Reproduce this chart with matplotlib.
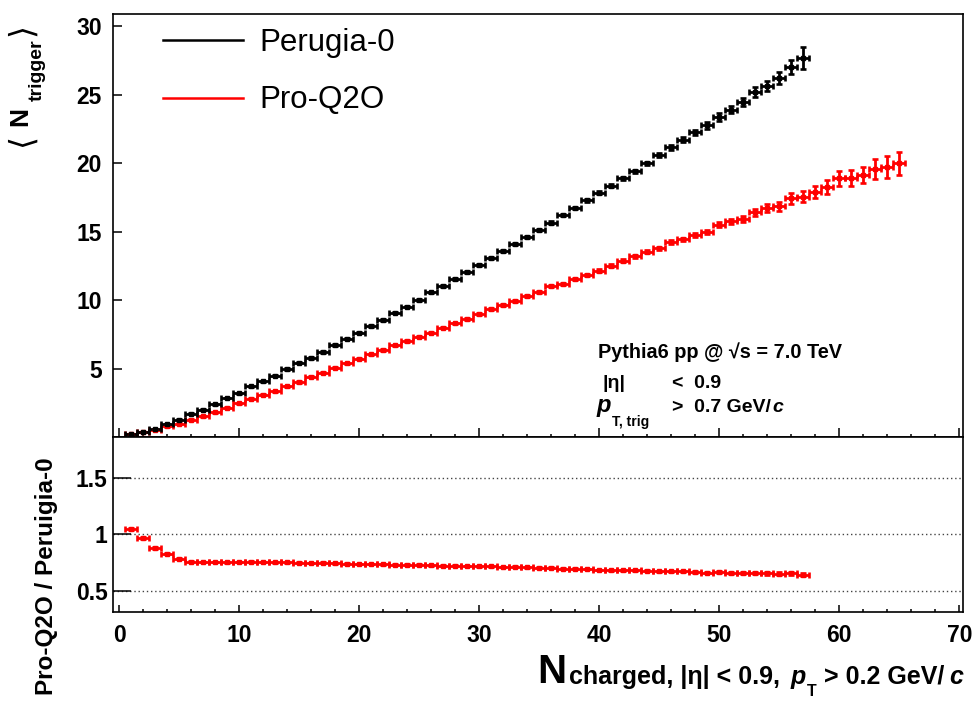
import numpy as np
import matplotlib
matplotlib.use('Agg')
import matplotlib.pyplot as plt
from matplotlib.lines import Line2D
from matplotlib.transforms import IdentityTransform

plt.rcParams['font.family'] = ['Liberation Sans', 'DejaVu Sans']
plt.rcParams['mathtext.fontset'] = 'dejavusans'

# --- data --------------------------------------------------------------
# Perugia-0 : <N_trigger> per N_charged bin (bins 1..57)
nch_p0 = np.arange(1, 58)
ntrig_p0 = [0.20, 0.36, 0.60, 0.95, 1.25, 1.70, 2.00, 2.40, 2.85, 3.20,
            3.70, 4.07, 4.49, 4.97, 5.42, 5.78, 6.20, 6.72, 7.18, 7.62,
            8.11, 8.55, 9.09, 9.53, 10.02, 10.56, 11.05, 11.54, 12.03, 12.57,
            13.09, 13.58, 14.12, 14.61, 15.15, 15.66, 16.20, 16.74, 17.30, 17.84,
            18.36, 18.90, 19.43, 20.00, 20.61, 21.15, 21.72, 22.26, 22.77, 23.38,
            23.92, 24.49, 25.20, 25.64, 26.25, 27.04, 27.67]
err_p0 = [0.02, 0.02, 0.02, 0.03, 0.03, 0.03, 0.03, 0.03, 0.03, 0.04,
          0.04, 0.04, 0.04, 0.04, 0.04, 0.05, 0.05, 0.05, 0.05, 0.05,
          0.05, 0.05, 0.06, 0.06, 0.06, 0.06, 0.06, 0.07, 0.07, 0.07,
          0.07, 0.08, 0.08, 0.08, 0.08, 0.09, 0.09, 0.09, 0.10, 0.10,
          0.10, 0.11, 0.11, 0.12, 0.13, 0.15, 0.18, 0.20, 0.25, 0.28,
          0.27, 0.30, 0.39, 0.39, 0.43, 0.50, 0.80]

# Pro-Q2O (bins 1..65)
nch_q2o = np.arange(1, 66)
ntrig_q2o = [0.21, 0.35, 0.53, 0.78, 0.98, 1.27, 1.50, 1.80, 2.14, 2.45,
             2.80, 3.09, 3.33, 3.70, 4.02, 4.39, 4.68, 5.05, 5.37, 5.71,
             6.03, 6.35, 6.69, 7.01, 7.33, 7.62, 7.99, 8.31, 8.60, 8.97,
             9.34, 9.63, 9.93, 10.32, 10.56, 11.00, 11.18, 11.54, 11.84, 12.16,
             12.52, 12.89, 13.21, 13.55, 13.80, 14.24, 14.44, 14.78, 14.97, 15.51,
             15.76, 15.96, 16.40, 16.74, 16.85, 17.43, 17.55, 17.90, 18.28, 18.90,
             18.94, 19.14, 19.58, 19.75, 20.00]
err_q2o = [0.02, 0.02, 0.02, 0.02, 0.02, 0.03, 0.03, 0.03, 0.03, 0.03,
           0.03, 0.03, 0.03, 0.04, 0.04, 0.04, 0.04, 0.04, 0.04, 0.04,
           0.04, 0.05, 0.05, 0.05, 0.05, 0.05, 0.05, 0.05, 0.06, 0.06,
           0.06, 0.06, 0.06, 0.07, 0.07, 0.07, 0.07, 0.08, 0.08, 0.08,
           0.09, 0.09, 0.10, 0.10, 0.11, 0.12, 0.13, 0.14, 0.16, 0.18,
           0.20, 0.22, 0.25, 0.28, 0.32, 0.38, 0.40, 0.45, 0.50, 0.55,
           0.58, 0.60, 0.70, 0.80, 0.85]

# ratio Pro-Q2O / Perugia-0 (bins 1..57)
nch_ratio = np.arange(1, 58)
ratio = [1.050, 0.971, 0.882, 0.829, 0.785, 0.758, 0.758, 0.758, 0.755, 0.758,
         0.761, 0.758, 0.755, 0.755, 0.752, 0.749, 0.752, 0.746, 0.743, 0.740,
         0.740, 0.737, 0.735, 0.735, 0.735, 0.729, 0.726, 0.726, 0.723, 0.720,
         0.720, 0.714, 0.714, 0.711, 0.708, 0.708, 0.699, 0.699, 0.696, 0.687,
         0.684, 0.684, 0.684, 0.681, 0.676, 0.676, 0.676, 0.667, 0.664, 0.670,
         0.664, 0.661, 0.658, 0.658, 0.655, 0.658, 0.646]
ratio_err = [0.010, 0.008, 0.006, 0.005, 0.004, 0.004, 0.003, 0.003, 0.003, 0.003,
             0.003, 0.003, 0.003, 0.003, 0.003, 0.003, 0.003, 0.003, 0.003, 0.003,
             0.003, 0.003, 0.003, 0.003, 0.003, 0.003, 0.003, 0.003, 0.003, 0.003,
             0.003, 0.003, 0.004, 0.004, 0.004, 0.004, 0.004, 0.004, 0.004, 0.004,
             0.005, 0.005, 0.005, 0.005, 0.006, 0.006, 0.006, 0.007, 0.007, 0.008,
             0.008, 0.009, 0.010, 0.011, 0.012, 0.014, 0.016]

W, H = 976, 707
fig = plt.figure(figsize=(W / 100, H / 100), dpi=100)
ax1 = fig.add_axes([113 / W, (H - 437) / H, 850 / W, 423 / H])
ax2 = fig.add_axes([113 / W, (H - 612) / H, 850 / W, 175 / H])

kw = dict(fmt='s', ms=3.2, xerr=0.5, capsize=2.4, capthick=1.9, elinewidth=2.0)
ax1.errorbar(nch_q2o, ntrig_q2o, yerr=err_q2o, color='red', **kw)
ax1.errorbar(nch_p0, ntrig_p0, yerr=err_p0, color='black', **kw)
ax2.errorbar(nch_ratio, ratio, yerr=ratio_err, color='red', **kw)

for ax in (ax1, ax2):
    ax.set_xlim(-0.5, 70.3)
    ax.set_xticks(np.arange(0, 71, 10))
    ax.set_xticks(np.arange(0, 71, 2), minor=True)
    ax.tick_params(which='both', direction='in', top=False, right=False, width=1.1)
    for sp in ax.spines.values():
        sp.set_linewidth(1.2)

ax1.set_ylim(0, 30.9)
ax1.set_yticks([5, 10, 15, 20, 25, 30])
ax1.tick_params(axis='x', which='major', length=6.5, labelbottom=False)
ax1.tick_params(axis='x', which='minor', length=2.4)
ax1.tick_params(axis='y', which='major', length=6.5, pad=8, labelsize=16.5)
for lab in ax1.get_yticklabels():
    lab.set_fontweight('bold')

ax2.set_ylim(0.317, 1.859)
ax2.set_yticks([0.5, 1, 1.5])
ax2.set_yticklabels(['0.5', '1', '1.5'])
ax2.tick_params(axis='y', which='major', length=13, pad=4, labelsize=16.5)
ax2.tick_params(axis='x', which='major', length=4.8, pad=9, labelsize=16.5)
ax2.tick_params(axis='x', which='minor', length=2.4)
for lab in ax2.get_yticklabels() + ax2.get_xticklabels():
    lab.set_fontweight('bold')
for yv in [0.5, 1, 1.5]:
    ax2.axhline(yv, color='#444444', lw=1, ls=(0, (1, 2)), zorder=0)

handles = [Line2D([], [], color='black', lw=1.8), Line2D([], [], color='red', lw=1.8)]
fig.legend(handles, ['Perugia-0', 'Pro-Q2O'], loc='upper left',
           bbox_to_anchor=(163 / W, (H - 28) / H), frameon=False, fontsize=22.5,
           borderpad=0, borderaxespad=0, handlelength=2.55, handletextpad=0.52,
           labelspacing=0.88)

ident = IdentityTransform()
rend = fig.canvas.get_renderer()


def chain(pieces, x0, y0, rot=False, right=False):
    # pieces: (text, size, weight, style, drop, gap) laid out one after another
    texts = []
    pos = 0.0
    for s, size, weight, style, drop, gap in pieces:
        if rot:
            t = fig.text(x0 + drop, y0 + pos, s, transform=ident, rotation=90,
                         rotation_mode='anchor', ha='left', va='baseline',
                         fontsize=size, fontweight=weight, fontstyle=style)
            pos += t.get_window_extent(rend).height + gap
        else:
            t = fig.text(x0 + pos, y0 - drop, s, transform=ident, ha='left',
                         va='baseline', fontsize=size, fontweight=weight,
                         fontstyle=style)
            pos += t.get_window_extent(rend).width + gap
        texts.append(t)
    if right:
        for t in texts:
            x, y = t.get_position()
            t.set_position((x - pos, y))
    return texts


# x axis title
chain([('N', 29, 'bold', 'normal', 0, 2),
       ('charged, |η| < 0.9,', 18, 'bold', 'normal', 1, 11),
       ('p', 18, 'bold', 'italic', 1, 1),
       ('T', 11.5, 'bold', 'normal', 13, 7),
       ('> 0.2 GeV/', 18, 'bold', 'normal', 1, 5),
       ('c', 18, 'bold', 'italic', 1, 0)], 963, H - 683, right=True)

# y axis titles
chain([(r'$\langle$', 24, 'normal', 'normal', 7, 12),
       ('N', 19, 'bold', 'normal', 0, 6),
       ('trigger', 14, 'bold', 'normal', 15, 0),
       (r'$\rangle$', 24, 'normal', 'normal', 7, 0)], 27, H - 150, rot=True)
fig.text(53, H - 576, 'Pro-Q2O / Peruigia-0', transform=ident, rotation=90,
         rotation_mode='anchor', ha='center', va='baseline', fontsize=17.5,
         fontweight='bold')

# info box
fig.text(598, H - 358, 'Pythia6 pp @ √s = 7.0 TeV', transform=ident,
         fontsize=14.3, fontweight='bold', va='baseline')
fig.text(603, H - 388, '|η|', transform=ident, fontsize=14, fontweight='bold',
         va='baseline')
fig.text(672, H - 388, '<  0.9', transform=ident, fontsize=14, fontweight='bold',
         va='baseline')
fig.text(597, H - 412, 'p', transform=ident, fontsize=17, fontweight='bold',
         fontstyle='italic', va='baseline')
fig.text(612, H - 426, 'T, trig', transform=ident, fontsize=10, fontweight='bold',
         va='baseline')
chain([('>  0.7 GeV/', 14, 'bold', 'normal', 0, 2),
       ('c', 14, 'bold', 'italic', 0, 0)], 672, H - 412)

fig.savefig('out.png', dpi=100)
